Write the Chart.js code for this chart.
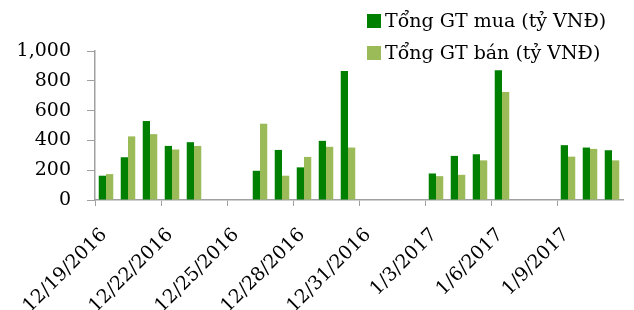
<!DOCTYPE html>
<html>
<head>
<meta charset="utf-8">
<script src="https://cdn.jsdelivr.net/npm/chart.js@4"></script>
<style>
  body { margin: 0; background: #fff; }
  #wrap { position: relative; width: 634px; height: 310px; }
  #legend { position: absolute; left: 367px; top: 6px; font: 19px "DejaVu Serif", serif; color: #000; }
  #legend div { height: 32px; line-height: 28px; white-space: nowrap; }
  #legend span { display: inline-block; width: 14px; height: 14px; margin-right: 4px; vertical-align: -1px; }
</style>
</head>
<body>
<div id="wrap">
  <canvas id="chart" width="634" height="310"></canvas>
  <div id="legend"></div>
</div>
<script>
// Dates (one per day, weekends/holidays left empty)
const dates = [
  '12/19/2016', '12/20/2016', '12/21/2016', '12/22/2016', '12/23/2016', '12/24/2016',
  '12/25/2016', '12/26/2016', '12/27/2016', '12/28/2016', '12/29/2016', '12/30/2016',
  '12/31/2016', '1/1/2017', '1/2/2017', '1/3/2017', '1/4/2017', '1/5/2017',
  '1/6/2017', '1/7/2017', '1/8/2017', '1/9/2017', '1/10/2017', '1/11/2017'
];

// Tong GT mua (ty VND)
const muaValues = [
  163, 287, 530, 363, 388, null,
  null, 196, 336, 219, 397, 865,
  null, null, null, 178, 296, 307,
  871, null, null, 368, 352, 334
];

// Tong GT ban (ty VND)
const banValues = [
  174, 427, 442, 339, 363, null,
  null, 512, 163, 289, 357, 352,
  null, null, null, 160, 169, 266,
  725, null, null, 291, 343, 266
];

const seriesNames = ['Tổng GT mua (tỷ VNĐ)', 'Tổng GT bán (tỷ VNĐ)'];
const seriesColors = ['#008000', '#9bbb59'];

const yTicks = [0, 200, 400, 600, 800, 1000];

const axisColor = '#a0a0a0';
const fontFamily = '"DejaVu Serif", serif';

// Legend
const legendEl = document.getElementById('legend');
seriesNames.forEach((name, i) => {
  const row = document.createElement('div');
  const box = document.createElement('span');
  box.style.background = seriesColors[i];
  row.appendChild(box);
  row.appendChild(document.createTextNode(name));
  legendEl.appendChild(row);
});

const ctx = document.getElementById('chart').getContext('2d');

new Chart(ctx, {
  type: 'bar',
  data: {
    labels: dates,
    datasets: [
      { label: seriesNames[0], data: muaValues, backgroundColor: seriesColors[0] },
      { label: seriesNames[1], data: banValues, backgroundColor: seriesColors[1] }
    ]
  },
  options: {
    responsive: false,
    animation: false,
    categoryPercentage: 0.66,
    barPercentage: 1.0,
    layout: { padding: { top: 51, right: 11, left: 0, bottom: 0 } },
    plugins: {
      legend: { display: false },
      tooltip: { enabled: false }
    },
    scales: {
      x: {
        offset: true,
        grid: {
          offset: true,
          drawOnChartArea: false,
          drawTicks: true,
          tickLength: 6,
          color: (c) => (c.index % 3 === 0 ? axisColor : 'rgba(0,0,0,0)')
        },
        border: { color: axisColor, width: 1.5 },
        ticks: {
          autoSkip: false,
          minRotation: 45,
          maxRotation: 45,
          padding: 18,
          labelOffset: -2,
          color: '#000',
          font: { family: fontFamily, size: 19 },
          callback: function (val, i) { return i % 3 === 0 ? dates[i] : ''; }
        },
        afterFit: (scale) => {
          scale.height = 110;
          // labels may hang outside, keep the plot width fixed
          scale.paddingLeft = 0;
          scale.paddingRight = 0;
        }
      },
      y: {
        min: 0,
        max: 1000,
        afterBuildTicks: (scale) => { scale.ticks = yTicks.map(v => ({ value: v })); },
        grid: {
          drawOnChartArea: false,
          drawTicks: true,
          tickLength: 8,
          color: axisColor
        },
        border: { color: axisColor, width: 1.5 },
        ticks: {
          padding: 16,
          color: '#000',
          font: { family: fontFamily, size: 19 },
          callback: (v) => v.toLocaleString('en-US')
        },
        afterFit: (scale) => { scale.width = 95; }
      }
    }
  }
});
</script>
</body>
</html>
